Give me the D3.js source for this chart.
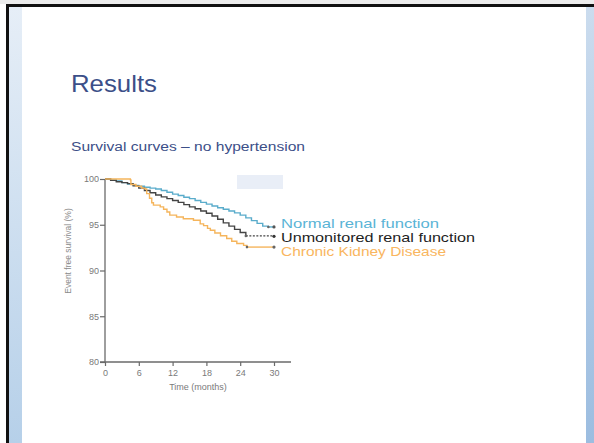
<!DOCTYPE html>
<html><head><meta charset="utf-8">
<script src="https://cdn.jsdelivr.net/npm/d3@7"></script>
<style>html,body{margin:0;padding:0;background:#fff;overflow:hidden}</style>
</head><body>
<svg id="c" width="594" height="443"></svg>
<script>
const title = "Results";
const subtitle = "Survival curves – no hypertension";
const xTicks = [0, 6, 12, 18, 24, 30];
const yTicks = [80, 85, 90, 95, 100];
const xLabel = "Time (months)";
const yLabel = "Event free survival (%)";
const seriesNames = ["Normal renal function", "Unmonitored renal function", "Chronic Kidney Disease"];

const normalT = [0,1,2,3,4,5,6,7,8,9,10,11,12,13,14,15,16,17,18,19,20,21,22,23,24,25,26,27,28,29,30];
const normalV = [100,99.9,99.8,99.6,99.45,99.3,99.2,99.1,99.0,98.9,98.75,98.55,98.35,98.2,98.0,97.85,97.65,97.45,97.25,97.05,96.85,96.7,96.5,96.3,96.05,95.75,95.45,95.15,94.85,94.76,94.76];
const unmonT = [0,1,2,3,4,5,6,7,8,9,10,11,12,13,14,15,16,17,18,19,20,21,22,23,24,25,30];
const unmonV = [100,99.85,99.7,99.6,99.5,99.25,99.0,98.75,98.5,98.25,98.05,97.85,97.65,97.45,97.2,96.95,96.75,96.5,96.25,95.95,95.6,95.2,94.85,94.5,94.15,93.78,93.73];
const ckdT = [0,4.5,4.6,5.5,6.5,7.1,7.4,7.9,8.3,8.6,9.8,10.4,11,11.5,12.7,13.9,15.7,16.9,17.5,18.2,18.7,19.5,20.5,21.6,22.5,23.4,24.6,25.2,30];
const ckdV = [100,99.9,99.4,99.2,99.0,98.9,98.4,97.9,97.4,97.15,96.95,96.7,96.4,96.05,95.85,95.65,95.5,95.1,94.9,94.6,94.4,94.1,93.8,93.5,93.2,92.95,92.75,92.56,92.56];

const svg = d3.select("#c");
const defs = svg.append("defs");
const gl = defs.append("linearGradient").attr("id","gl").attr("x1",0).attr("y1",0).attr("x2",0).attr("y2",1);
gl.append("stop").attr("offset","0%").attr("stop-color","#e6eef7");
gl.append("stop").attr("offset","100%").attr("stop-color","#b6d0e9");
const gr = defs.append("linearGradient").attr("id","gr").attr("x1",0).attr("y1",0).attr("x2",0).attr("y2",1);
gr.append("stop").attr("offset","0%").attr("stop-color","#cbdcee");
gr.append("stop").attr("offset","100%").attr("stop-color","#9cbde0");

// frame
svg.append("rect").attr("x",0).attr("y",0).attr("width",594).attr("height",443).attr("fill","#ffffff");
svg.append("rect").attr("x",0).attr("y",0).attr("width",594).attr("height",4).attr("fill","#ececec");
svg.append("rect").attr("x",6).attr("y",4).attr("width",588).attr("height",3).attr("fill","#111");
svg.append("rect").attr("x",6).attr("y",4).attr("width",3).attr("height",439).attr("fill","#111");
svg.append("rect").attr("x",9).attr("y",7).attr("width",13).attr("height",436).attr("fill","url(#gl)");
svg.append("rect").attr("x",586).attr("y",7).attr("width",8).attr("height",436).attr("fill","url(#gr)");

svg.append("text").attr("x",71).attr("y",92).attr("font-family","Liberation Sans, Arial, sans-serif")
  .attr("font-size",24).attr("fill","#3c4f88").attr("textLength",86).attr("lengthAdjust","spacingAndGlyphs").text(title);
svg.append("text").attr("x",71).attr("y",151).attr("font-family","Liberation Sans, Arial, sans-serif")
  .attr("font-size",12.5).attr("fill","#3c4f88").attr("textLength",234).attr("lengthAdjust","spacingAndGlyphs").text(subtitle);

// decorative light box
svg.append("rect").attr("x",237).attr("y",175).attr("width",46).attr("height",14).attr("fill","#e9eef7");

const x = d3.scaleLinear().domain([0,30]).range([105,274]);
const y = d3.scaleLinear().domain([80,100]).range([362,179]);

const axisColor = "#6a6a6a";
const fontAx = "Liberation Sans, Arial, sans-serif";
// y axis
const ya = svg.append("g").attr("transform","translate(105,0)")
  .call(d3.axisLeft(y).tickValues(yTicks).tickSize(5).tickPadding(1).tickFormat(d3.format("d")));
ya.select(".domain").attr("stroke",axisColor).attr("stroke-width",1.3).attr("d","M0,179V362");
ya.selectAll(".tick line").attr("stroke",axisColor).attr("stroke-width",1.2);
ya.selectAll("text").attr("font-family",fontAx).attr("font-size",9).attr("fill","#7a7a7a");
// x axis
const xa = svg.append("g").attr("transform","translate(0,362)")
  .call(d3.axisBottom(x).tickValues(xTicks).tickSize(4).tickPadding(4));
xa.select(".domain").attr("stroke",axisColor).attr("stroke-width",1.3).attr("d","M100,0H291");
xa.selectAll(".tick line").attr("stroke",axisColor).attr("stroke-width",1.2);
xa.selectAll("text").attr("font-family",fontAx).attr("font-size",9).attr("fill","#7a7a7a");

svg.append("text").attr("x",198).attr("y",390).attr("text-anchor","middle")
  .attr("font-family",fontAx).attr("font-size",9).attr("fill","#7a7a7a").text(xLabel);
svg.append("text").attr("transform","translate(71,251) rotate(-90)").attr("text-anchor","middle")
  .attr("font-family",fontAx).attr("font-size",8.5).attr("fill","#8a8a8a").text(yLabel);

const series = [
  {t: normalT, v: normalV, color: "#5aaccb", plateau: 29},
  {t: unmonT, v: unmonV, color: "#444444", plateau: 25},
  {t: ckdT, v: ckdV, color: "#f5b55c", plateau: 25.2}
];
const line = d3.line().x(d => x(d[0])).y(d => y(d[1])).curve(d3.curveStepAfter);
series.forEach((s, i) => {
  const pts = s.t.map((t, j) => [t, s.v[j]]);
  const main = pts.filter(p => p[0] <= s.plateau);
  const tail = pts.filter(p => p[0] >= s.plateau);
  svg.append("path").datum(main).attr("d", line).attr("fill","none").attr("stroke", s.color).attr("stroke-width",1.4);
  svg.append("path").datum(tail).attr("d", line).attr("fill","none").attr("stroke", s.color).attr("stroke-width",1.4)
    .attr("stroke-dasharray", i === 1 ? "2,1.5" : null);
  svg.append("circle").attr("cx", x(30)).attr("cy", y(s.v[s.v.length-1])).attr("r",1.6).attr("fill", i===0 ? "#555" : (i===1 ? "#333" : "#666"));
  svg.append("circle").attr("cx", x(s.plateau)).attr("cy", y(s.v[s.t.indexOf(s.plateau)])).attr("r",1.3).attr("fill", "#666");
});

const legColors = ["#5ab4d6", "#1e1e1e", "#f9b660"];
const legY = [228, 241.5, 255.5];
const legW = [158, 194, 165];
seriesNames.forEach((n, i) => {
  svg.append("text").attr("x",281).attr("y",legY[i]).attr("font-family","Liberation Sans, Arial, sans-serif")
    .attr("font-size",13).attr("fill",legColors[i]).attr("textLength",legW[i]).attr("lengthAdjust","spacingAndGlyphs").text(n);
});
</script>
</body></html>
